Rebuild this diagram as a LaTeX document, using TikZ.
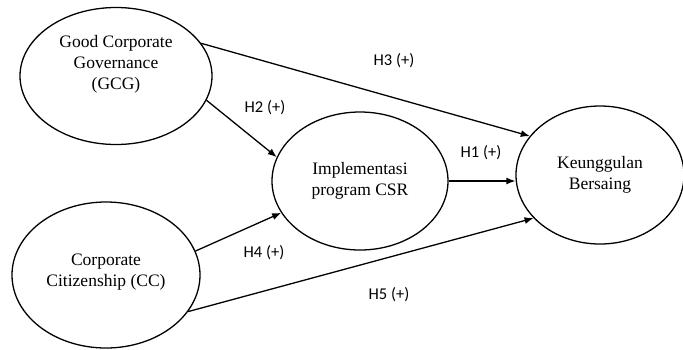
\documentclass[tikz,border=0pt]{standalone}
\usepackage{fontspec}
\setmainfont{Liberation Serif}
\newfontfamily\hlabelfont{Carlito}
\usetikzlibrary{shapes.geometric, arrows.meta}

\begin{document}
\begin{tikzpicture}[x=1pt, y=-1pt,
    construct/.style={ellipse, draw, line width=1.3pt, inner sep=0pt, align=center, font=\fontsize{17.5}{21}\selectfont},
    hyp/.style={font=\hlabelfont\fontsize{16.5}{19}\selectfont, inner sep=0pt},
    path/.style={line width=1.3pt, -{Latex[length=9pt, width=7pt]}}]
    \useasboundingbox (0,0) rectangle (683,349);
    % constructs
    \node[construct, minimum width=192pt, minimum height=137pt, text depth=28pt] (gcg) at (116,76) {Good Corporate\\Governance\\(GCG)};
    \node[construct, minimum width=188pt, minimum height=146pt, text depth=10pt] (cc) at (106,275) {Corporate\\Citizenship (CC)};
    \node[construct, minimum width=176pt, minimum height=138pt] (csr) at (360,181) {Implementasi\\program CSR};
    \node[construct, minimum width=168pt, minimum height=138pt] (kb) at (600,175) {Keunggulan\\Bersaing};
    % hypotheses
    \draw[path] (gcg.21) -- (kb.151);
    \draw[path] (gcg.-15) -- (csr.164);
    \draw[path] (csr.east) -- (kb.west |- csr.east);
    \draw[path] (cc.15) -- (csr.202);
    \draw[path] (cc.-24) -- (kb.213);
    \node[hyp] (h3) at (394,61) {H3 (+)};
    \node[hyp] (h2) at (265,108) {H2 (+)};
    \node[hyp] (h1) at (481,153) {H1 (+)};
    \node[hyp] (h4) at (264,253) {H4 (+)};
    \node[hyp] (h5) at (389,295) {H5 (+)};
\end{tikzpicture}
\end{document}
